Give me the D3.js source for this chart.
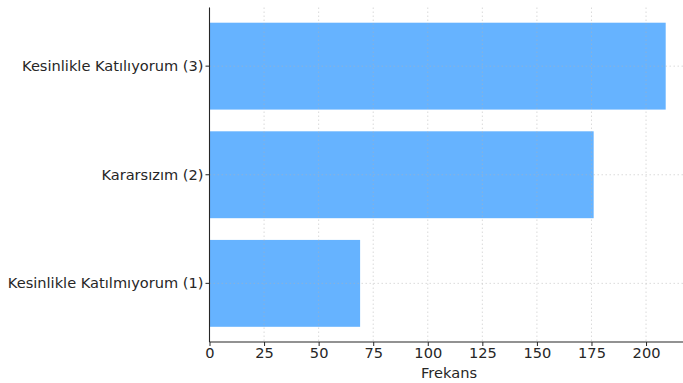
<!DOCTYPE html>
<html><head><meta charset="utf-8">
<script src="https://cdn.jsdelivr.net/npm/d3@7"></script>
<style>body{margin:0;background:#fff;}svg{display:block;}text{font-family:"DejaVu Sans",sans-serif;fill:#262626;}</style>
</head><body>
<svg id="c" width="683" height="383"></svg>
<script>
const categories = ["Kesinlikle Katılmıyorum (1)", "Kararsızım (2)", "Kesinlikle Katılıyorum (3)"];
const values = [69, 176, 209];
const xTicks = [0, 25, 50, 75, 100, 125, 150, 175, 200];
const xLabel = "Frekans";

const FS = 14.6;
const svg = d3.select("#c");
const pLeft = 209.5, pRight = 688.5, pTop = 7.5, pBottom = 342;
const x = d3.scaleLinear().domain([0, 219.45]).range([pLeft, pRight]);
const yIdx = d3.scaleLinear().domain([-0.54, 2.54]).range([pBottom, pTop]);
const bh = yIdx(0) - yIdx(0.8);

svg.selectAll("rect.bar").data(values).join("rect")
  .attr("x", x(0)).attr("y", (d,i) => yIdx(i + 0.4))
  .attr("width", d => x(d) - x(0)).attr("height", bh)
  .attr("fill", "#66b3ff");

// grid
const g = svg.append("g");
g.selectAll("line.vx").data(xTicks).join("line")
  .attr("x1", d => x(d)).attr("x2", d => x(d)).attr("y1", pTop).attr("y2", pBottom)
  .attr("stroke", "#b0b0b0").attr("stroke-opacity", 0.6).attr("stroke-width", 0.8).attr("stroke-dasharray", "1.5,2.5");
g.selectAll("line.hy").data(categories).join("line")
  .attr("x1", pLeft).attr("x2", pRight).attr("y1", (d,i) => yIdx(i)).attr("y2", (d,i) => yIdx(i))
  .attr("stroke", "#b0b0b0").attr("stroke-opacity", 0.6).attr("stroke-width", 0.8).attr("stroke-dasharray", "1.5,2.5");

// x axis
const xa = svg.append("g").attr("transform", `translate(0,${pBottom})`)
  .call(d3.axisBottom(x).tickValues(xTicks).tickSize(4).tickPadding(2));
xa.select(".domain").attr("stroke", "#262626").attr("stroke-width", 1.1).attr("d", `M${pLeft},0H${pRight}`);
xa.selectAll(".tick line").attr("stroke", "#262626");
xa.selectAll(".tick text").attr("font-size", FS).attr("font-family", "DejaVu Sans").attr("fill", "#262626");

// y axis
const ya = svg.append("g").attr("transform", `translate(${pLeft},0)`);
ya.append("line").attr("x1", 0).attr("x2", 0).attr("y1", pTop).attr("y2", pBottom).attr("stroke", "#262626").attr("stroke-width", 1.1);
categories.forEach((c, i) => {
  ya.append("line").attr("x1", -4).attr("x2", 0).attr("y1", yIdx(i)).attr("y2", yIdx(i)).attr("stroke", "#262626");
  ya.append("text").attr("x", -6).attr("y", yIdx(i)).attr("dy", "0.35em").attr("text-anchor", "end")
    .attr("font-size", FS).text(c);
});

svg.append("text").attr("x", (pLeft + pRight) / 2).attr("y", 378).attr("text-anchor", "middle")
  .attr("font-size", FS).text(xLabel);
</script>
</body></html>
